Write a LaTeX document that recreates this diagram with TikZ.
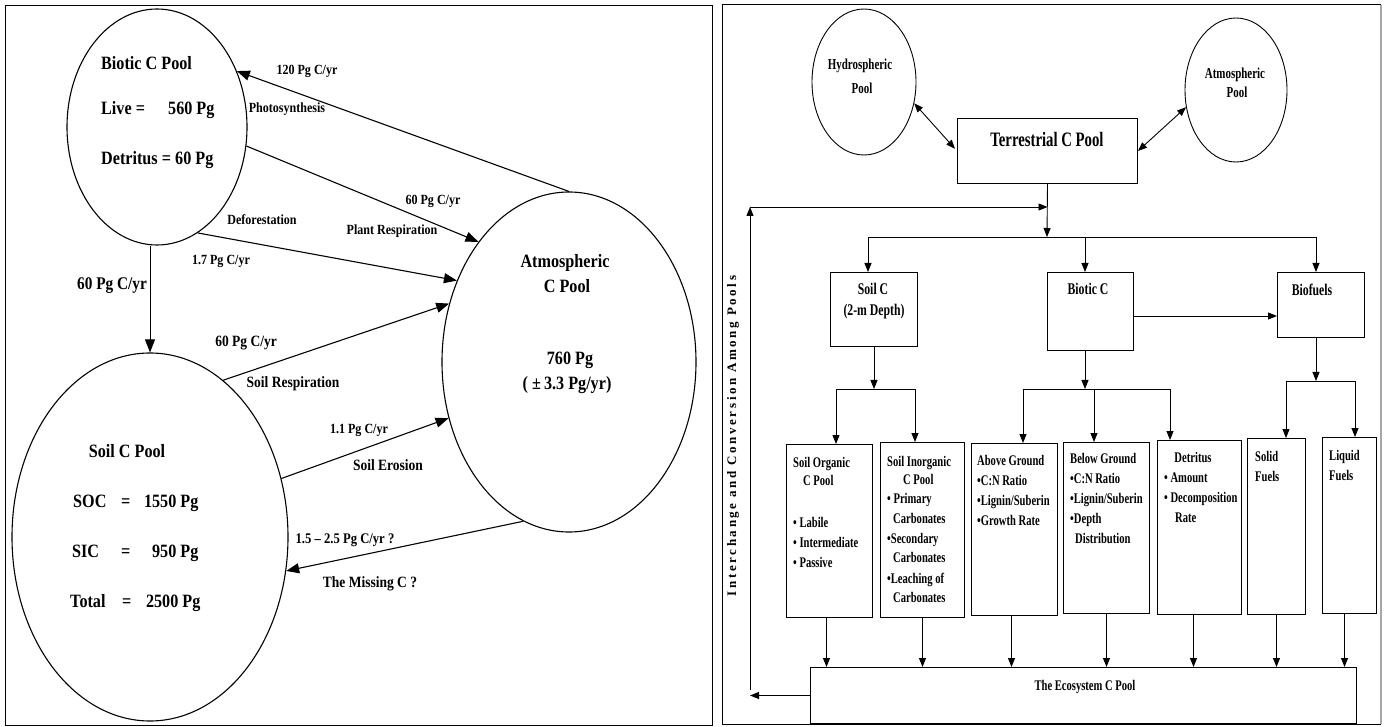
\documentclass[tikz,border=0pt]{standalone}
\usepackage{fontspec}
\setmainfont{Liberation Serif}
\newfontfamily\lpf[FakeStretch=0.86]{Liberation Serif}
\newfontfamily\rpf[FakeStretch=0.72]{Liberation Serif}
\newfontfamily\vpf[LetterSpace=20]{Liberation Serif}
\usetikzlibrary{arrows.meta,shapes.geometric}

\tikzset{
  pool/.style={ellipse, draw, line width=1.1pt, inner sep=0pt},
  rpool/.style={ellipse, draw, line width=0.9pt, inner sep=0pt},
  rbox/.style={rectangle, draw, line width=1pt, inner sep=0pt, anchor=north west},
  larr/.style={-{Triangle[length=13pt,width=10pt]}, line width=1.1pt},
  rarr/.style={-{Triangle[length=9pt,width=7pt]}, line width=0.9pt},
  rdarr/.style={{Triangle[length=9pt,width=7pt]}-{Triangle[length=9pt,width=7pt]}, line width=0.9pt},
  rline/.style={line width=0.9pt},
  ttl/.style={inner sep=0pt, font=\lpf\bfseries\fontsize{18.8}{22}\selectfont},
  lbl/.style={inner sep=0pt, font=\lpf\bfseries\fontsize{14}{17}\selectfont},
  lblm/.style={inner sep=0pt, font=\lpf\bfseries\fontsize{15.7}{18}\selectfont},
  lblb/.style={inner sep=0pt, font=\lpf\bfseries\fontsize{17.8}{20}\selectfont},
  lblf/.style={inner sep=0pt, font=\lpf\bfseries\fontsize{14.7}{17}\selectfont},
  rsm/.style={inner sep=0pt, font=\rpf\bfseries\fontsize{15.2}{18}\selectfont},
  rbig/.style={inner sep=0pt, font=\rpf\bfseries\fontsize{20.5}{24}\selectfont},
  rmid/.style={inner sep=0pt, font=\rpf\bfseries\fontsize{16.3}{19}\selectfont},
  rtx/.style={inner sep=0pt, font=\rpf\bfseries\fontsize{14.7}{18}\selectfont},
  vtx/.style={inner sep=0pt, font=\vpf\bfseries\fontsize{13}{15}\selectfont},
}

\begin{document}
\begin{tikzpicture}[x=1pt,y=-1pt]
\useasboundingbox (0,0) rectangle (1385,727);
\fill[white] (0,0) rectangle (1385,727);

% ---------- panel frames ----------
\draw[line width=1pt] (5.5,6) rectangle (712,725.5);
\draw[line width=1pt] (722,5) rectangle (1380,724);
\draw[line width=2pt, gray!70] (1381,5) -- (1381,724);

% ================= global carbon pools and fluxes =================
\node[pool, minimum width=180pt, minimum height=236pt] (bio) at (157,127) {};
\node[pool, minimum width=276pt, minimum height=368pt] (soil) at (150,537) {};
\node[pool, minimum width=254pt, minimum height=340pt] (atm) at (569,362) {};

\node[ttl, anchor=base west] (bioT) at (101,70) {Biotic C Pool};
\node[ttl, anchor=base west] (bioL) at (101,115) {\makebox[67pt][l]{Live =}560 Pg};
\node[ttl, anchor=base west] (bioD) at (101,165) {\makebox[74pt][l]{Detritus =}60 Pg};

\node[ttl, anchor=base] (soilT) at (127,457) {Soil C Pool};
\node[ttl, anchor=base west] (soc) at (73,507) {\makebox[48pt][l]{SOC}=\makebox[68pt][r]{1550 Pg}};
\node[ttl, anchor=base west] (sic) at (72,557) {\makebox[49pt][l]{SIC}=\makebox[68pt][r]{950 Pg}};
\node[ttl, anchor=base west] (tot) at (70,607) {\makebox[52pt][l]{Total}=\makebox[69pt][r]{2500 Pg}};

\node[ttl, anchor=base] (atmT1) at (565,268) {Atmospheric};
\node[ttl, anchor=base] (atmT2) at (567,293) {C Pool};
\node[ttl, anchor=base] (atmV) at (570,365) {760 Pg};
\node[ttl, anchor=base] (atmU) at (567,390) {( ±\,3.3 Pg/yr)};

% fluxes
\draw[larr] (atm.north) -- (bio.35);
\draw[larr] (bio.-12) -- (atm.127);
\draw[larr] (bio.-69) -- (atm.144);
\draw[larr, line width=0.8pt] (bio.south -| soil.north) -- (soil.north);
\draw[larr] (soil.65) -- (atm.154);
\draw[larr] (soil.24) -- (atm.205);
\draw[larr] (atm.254) -- (soil.-14);

\node[lbl, anchor=base] (l120) at (307,75) {120 Pg C/yr};
\node[lbl, anchor=base] (lph) at (287,113) {Photosynthesis};
\node[lbl, anchor=base] (l60a) at (433,205) {60 Pg C/yr};
\node[lbl, anchor=base] (lpr) at (392,235) {Plant Respiration};
\node[lbl, anchor=base] (ldef) at (262,225) {Deforestation};
\node[lbl, anchor=base] (l17) at (221,265) {1.7 Pg C/yr};
\node[lblb, anchor=base] (l60b) at (112,290) {60 Pg C/yr};
\node[lblm, anchor=base] (l60c) at (246,347) {60 Pg C/yr};
\node[lblm, anchor=base] (lsr) at (293,388) {Soil Respiration};
\node[lbl, anchor=base] (l11) at (359,433) {1.1 Pg C/yr};
\node[lblm, anchor=base] (lse) at (388,470) {Soil Erosion};
\node[lblf, anchor=base] (l15) at (345,543) {1.5 – 2.5 Pg C/yr ?};
\node[lblm, anchor=base] (lmc) at (370,587) {The Missing C ?};

% ================= terrestrial pool breakdown =================
\node[rpool, minimum width=104pt, minimum height=146pt] (hyd) at (864,82) {};
\node[rpool, minimum width=102pt, minimum height=144pt] (apl) at (1236,90) {};
\node[rsm, anchor=base] (hydT1) at (860,70) {Hydrospheric};
\node[rsm, anchor=base] (hydT2) at (862,94) {Pool};
\node[rsm, anchor=base] (aplT1) at (1235,79) {Atmospheric};
\node[rsm, anchor=base] (aplT2) at (1237,98) {Pool};

\node[rbox, minimum width=180pt, minimum height=65pt] (terr) at (957,118) {};
\node[rbig, anchor=base] (terrT) at (1047,147) {Terrestrial C Pool};

\draw[rdarr, shorten >=3pt] (hyd.-23) -- (terr.west);
\draw[rdarr] (terr.east) -- (apl.199);

% first level
\node[rbox, minimum width=87pt, minimum height=74pt] (soilc) at (830,272) {};
\node[rbox, minimum width=86pt, minimum height=78pt] (bioc) at (1047,272) {};
\node[rbox, minimum width=87pt, minimum height=65pt] (biof) at (1277,272) {};
\node[rmid, anchor=base] (scT1) at (873,295) {Soil C};
\node[rmid, anchor=base] (scT2) at (874,316) {(2-m Depth)};
\node[rmid, anchor=base] (bcT) at (1088,295) {Biotic C};
\node[rmid, anchor=base] (bfT) at (1312,296) {Biofuels};

\coordinate (j0) at (1047,237);
\coordinate (b1) at (868,237);
\coordinate (b2) at (1085,237);
\coordinate (b3) at (1316,237);
\draw[rarr] (terr.south) -- (j0);
\draw[rline] (b1) -- (b3);
\draw[rarr] (b1) -- (b1 |- soilc.north);
\draw[rarr] (b2) -- (b2 |- bioc.north);
\draw[rarr] (b3) -- (b3 |- biof.north);
\draw[rarr] (bioc.east |- scT2.base) -- (biof.west |- scT2.base);

% second level boxes
\node[rbox, minimum width=86pt, minimum height=173pt] (sorg) at (786,444) {};
\node[rbox, minimum width=84pt, minimum height=175pt] (sinorg) at (880,442) {};
\node[rbox, minimum width=86pt, minimum height=172pt] (abg) at (971,443) {};
\node[rbox, minimum width=86pt, minimum height=171pt] (blg) at (1063,442) {};
\node[rbox, minimum width=84pt, minimum height=174pt] (detr) at (1157,440) {};
\node[rbox, minimum width=58pt, minimum height=176pt] (solid) at (1247,438) {};
\node[rbox, minimum width=54pt, minimum height=176pt] (liquid) at (1322,437) {};

% soil branch
\coordinate (sj) at (874,389);
\coordinate (sa) at (836,389);
\coordinate (sb) at (915,389);
\draw[rarr] (sj |- soilc.south) -- (sj);
\draw[rline] (sa) -- (sb);
\draw[rarr] (sa) -- (sa |- sorg.north);
\draw[rarr] (sb) -- (sb |- sinorg.north);

% biotic branch
\coordinate (bj) at (1085,389);
\coordinate (ba) at (1023,389);
\coordinate (bb) at (1094,389);
\coordinate (bc) at (1170,389);
\draw[rarr] (bj |- bioc.south) -- (bj);
\draw[rline] (ba) -- (bc);
\draw[rarr] (ba) -- (ba |- abg.north);
\draw[rarr] (bb) -- (bb |- blg.north);
\draw[rarr] (bc) -- (bc |- detr.north);

% biofuel branch
\coordinate (fj) at (1316,381);
\coordinate (fa) at (1286,381);
\coordinate (fb) at (1355,381);
\draw[rarr] (fj |- biof.south) -- (fj);
\draw[rline] (fa) -- (fb);
\draw[rarr] (fa) -- (fa |- solid.north);
\draw[rarr] (fb) -- (fb |- liquid.north);

% box contents
\node[rtx, anchor=base west] (so1) at (793,467) {Soil Organic};
\node[rtx, anchor=base west] (so2) at (803,485) {C Pool};
\node[rtx, anchor=base west] (so3) at (793,527) {• Labile};
\node[rtx, anchor=base west] (so4) at (793,547) {• Intermediate};
\node[rtx, anchor=base west] (so5) at (793,567) {• Passive};

\node[rtx, anchor=base west] (si1) at (887,466) {Soil Inorganic};
\node[rtx, anchor=base west] (si2) at (903,484) {C Pool};
\node[rtx, anchor=base west] (si3) at (887,503) {• Primary};
\node[rtx, anchor=base west] (si4) at (893,523) {Carbonates};
\node[rtx, anchor=base west] (si5) at (887,543) {•Secondary};
\node[rtx, anchor=base west] (si6) at (893,562) {Carbonates};
\node[rtx, anchor=base west] (si7) at (887,583) {•Leaching of};
\node[rtx, anchor=base west] (si8) at (893,602) {Carbonates};

\node[rtx, anchor=base west] (ab1) at (977,465) {Above Ground};
\node[rtx, anchor=base west] (ab2) at (977,485) {•C:N Ratio};
\node[rtx, anchor=base west] (ab3) at (977,505) {•Lignin/Suberin};
\node[rtx, anchor=base west] (ab4) at (977,525) {•Growth Rate};

\node[rtx, anchor=base west] (bl1) at (1070,463) {Below Ground};
\node[rtx, anchor=base west] (bl2) at (1070,483) {•C:N Ratio};
\node[rtx, anchor=base west] (bl3) at (1070,503) {•Lignin/Suberin};
\node[rtx, anchor=base west] (bl4) at (1070,523) {•Depth};
\node[rtx, anchor=base west] (bl5) at (1075,543) {Distribution};

\node[rtx, anchor=base] (de1) at (1193,462) {Detritus};
\node[rtx, anchor=base west] (de2) at (1164,482) {• Amount};
\node[rtx, anchor=base west] (de3) at (1164,502) {• Decomposition};
\node[rtx, anchor=base west] (de4) at (1175,522) {Rate};

\node[rtx, anchor=base west] (sf1) at (1255,461) {Solid};
\node[rtx, anchor=base west] (sf2) at (1255,481) {Fuels};
\node[rtx, anchor=base west] (lf1) at (1329,460) {Liquid};
\node[rtx, anchor=base west] (lf2) at (1329,480) {Fuels};

% ecosystem pool
\node[rbox, minimum width=546pt, minimum height=56pt] (eco) at (810,667) {};
\node[rtx, anchor=base] (ecoT) at (1085,690) {The Ecosystem C Pool};

\draw[rarr] ([xshift=-3pt]sorg.south) -- ([xshift=-3pt]sorg.south |- eco.north);
\draw[rarr] (sinorg.south) -- (sinorg.south |- eco.north);
\draw[rarr] ([xshift=-3pt]abg.south) -- ([xshift=-3pt]abg.south |- eco.north);
\draw[rarr] (blg.south) -- (blg.south |- eco.north);
\draw[rarr] ([xshift=-6pt]detr.south) -- ([xshift=-6pt]detr.south |- eco.north);
\draw[rarr] (solid.south) -- (solid.south |- eco.north);
\draw[rarr] ([xshift=-5pt]liquid.south) -- ([xshift=-5pt]liquid.south |- eco.north);

% feedback loop along the left side
\coordinate (lt) at (750,207);
\coordinate (lb) at (750,690);
\draw[rarr] (eco.west) -- (eco.west -| lb);
\draw[rarr] (lb) -- (lt);
\draw[rarr] (lt) -- (lt -| terr.south);

\node[vtx, rotate=90] (vt) at (733,436) {Interchange and Conversion Among Pools};
\end{tikzpicture}
\end{document}
